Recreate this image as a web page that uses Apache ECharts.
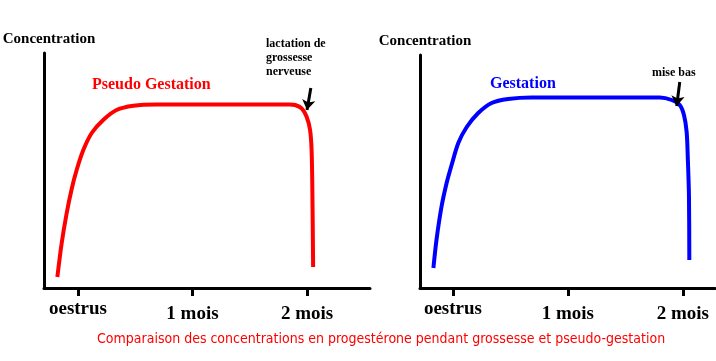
<!DOCTYPE html>
<html><head><meta charset="utf-8">
<script src="https://cdn.jsdelivr.net/npm/echarts@6/dist/echarts.min.js"></script>
<style>html,body{margin:0;padding:0;background:#fff}#c{width:716px;height:361px}</style>
</head><body><div id="c"></div>
<script>
// Tick labels (days since oestrus)
const tickValues = [0, 30, 60];
const tickLabels = ['oestrus', '1 mois', '2 mois'];
// Pseudo gestation (left panel): [day, concentration]
const pseudoDays = [-5.4, -4.3, -3.0, -1.65, -0.35, 1.4, 3.6, 6.6, 10.1, 14.5, 20.6, 55.5, 56.9, 58.6, 59.9, 60.8, 61.2, 61.4, 61.6];
const pseudoConc = [11, 44, 74, 99, 118, 138, 155, 168, 178, 182.3, 183.5, 183.5, 183, 179.7, 171.3, 158, 138, 98, 21];
// Gestation (right panel)
const gestDays = [-5.1, -4.3, -3.0, -1.65, -0.35, 1.4, 3.6, 6.6, 10.1, 14.4, 20.5, 54.0, 57.1, 59.2, 60.3, 61.0, 61.3, 61.6, 61.7];
const gestConc = [20, 48, 81, 105, 123, 145, 161, 175, 185, 189, 190.5, 190.5, 188, 183, 173, 156, 130, 93, 28];
// Annotation arrows [fromDay, fromConc, toDay, toConc]
const arrowPseudo = [61.0, 200, 60.0, 178];
const arrowGest = [59.2, 206, 58.4, 182];

const serif = '"Liberation Serif", "DejaVu Serif", serif';
const zip = (a, b) => a.map((v, i) => [v, b[i]]);

function xAxis(idx, min, max) {
  return {
    type: 'value', gridIndex: idx, min: min, max: max,
    splitLine: {show: false},
    axisLine: {show: true, onZero: false, lineStyle: {color: '#000', width: 3}},
    axisTick: {show: true, customValues: tickValues, length: 8, inside: false, lineStyle: {color: '#000', width: 3}},
    axisLabel: {
      show: true, customValues: tickValues, margin: 12,
      formatter: v => {
        const i = tickValues.indexOf(v);
        return i === 0 ? '{a|' + tickLabels[i] + '}' : '{b|' + tickLabels[i] + '}';
      },
      rich: {
        a: {fontFamily: serif, fontWeight: 'bold', fontSize: 19, color: '#000', padding: [0, 0, 0, 0]},
        b: {fontFamily: serif, fontWeight: 'bold', fontSize: 19, color: '#000', padding: [5, 0, 0, 0]}
      }
    }
  };
}
function yAxis(idx, max) {
  return {
    type: 'value', gridIndex: idx, min: 0, max: max,
    name: 'Concentration', nameLocation: 'end', nameGap: 6,
    nameTextStyle: {fontFamily: serif, fontWeight: 'bold', fontSize: 15, color: '#000', align: 'center', padding: [0, 0, 0, 10]},
    splitLine: {show: false},
    axisLine: {show: true, onZero: false, lineStyle: {color: '#000', width: 3}},
    axisTick: {show: false},
    axisLabel: {show: false}
  };
}
function arrowLine(a) {
  return {
    silent: true, symbol: ['none', 'arrow'], symbolSize: [10, 10],
    lineStyle: {color: '#000', width: 3, type: 'solid'},
    label: {show: false},
    data: [[{coord: [a[0], a[1]]}, {coord: [a[2], a[3]]}]]
  };
}

const chart = echarts.init(document.getElementById('c'));
chart.setOption({
  animation: false,
  backgroundColor: '#fff',
  grid: [
    {left: 44, top: 53, width: 326, height: 235},
    {left: 420, top: 55, width: 295, height: 233}
  ],
  xAxis: [xAxis(0, -8.9, 76.5), xAxis(1, -8.6, 68.4)],
  yAxis: [yAxis(0, 235), yAxis(1, 233)],
  series: [
    {type: 'line', xAxisIndex: 0, yAxisIndex: 0, data: zip(pseudoDays, pseudoConc), smooth: 0.3,
     showSymbol: false, lineStyle: {color: '#ff0000', width: 4}, markLine: arrowLine(arrowPseudo)},
    {type: 'line', xAxisIndex: 1, yAxisIndex: 1, data: zip(gestDays, gestConc), smooth: 0.3,
     showSymbol: false, lineStyle: {color: '#0000ff', width: 4}, markLine: arrowLine(arrowGest)}
  ],
  graphic: [
    {type: 'text', left: 92, top: 77, style: {text: 'Pseudo Gestation', font: 'bold 16px ' + serif, fill: '#ff0000'}},
    {type: 'text', left: 490, top: 76, style: {text: 'Gestation', font: 'bold 16px ' + serif, fill: '#0000ff'}},
    {type: 'text', left: 266, top: 37, style: {text: 'lactation de\ngrossesse\nnerveuse', font: 'bold 12px ' + serif, lineHeight: 14, fill: '#000', align: 'left'}},
    {type: 'text', left: 652, top: 67, style: {text: 'mise bas', font: 'bold 12px ' + serif, fill: '#000'}},
    {type: 'text', left: 97, top: 332, style: {text: 'Comparaison des concentrations en progestérone pendant grossesse et pseudo-gestation', font: '14px "Liberation Sans Narrow", "DejaVu Sans Condensed", sans-serif', fill: '#ff0000'}}
  ]
});
</script></body></html>
